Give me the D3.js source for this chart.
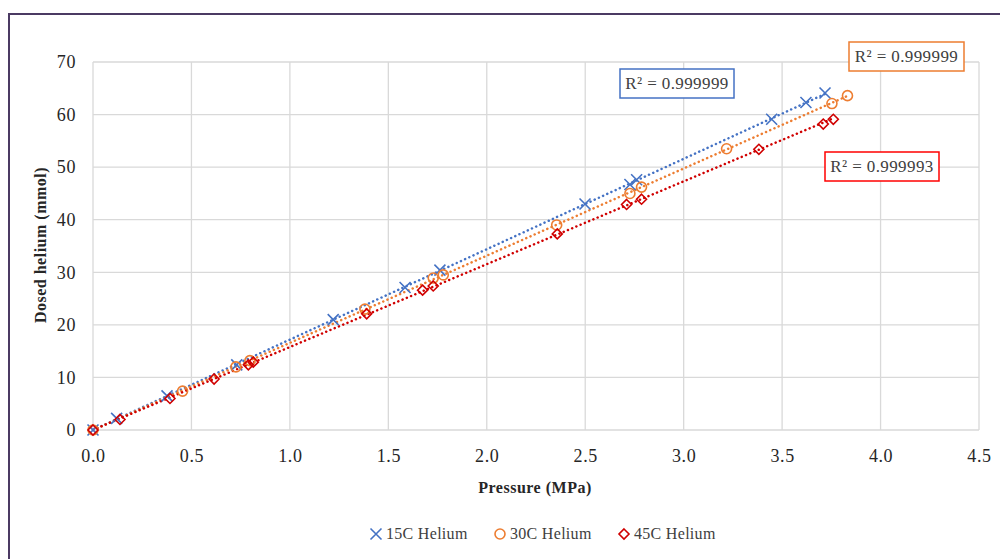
<!DOCTYPE html>
<html><head><meta charset="utf-8">
<script src="https://cdn.jsdelivr.net/npm/d3@7"></script>
<style>
body{margin:0;background:#fff;}
</style></head>
<body><svg id="c" width="1000" height="559"></svg>
<script>
const xTicks = [0,0.5,1.0,1.5,2.0,2.5,3.0,3.5,4.0,4.5];
const yTicks = [0,10,20,30,40,50,60,70];
const seriesNames = ["15C Helium","30C Helium","45C Helium"];
const seriesColors = ["#4472C4","#ED7D31","#D00000"];
const boxColors = ["#4472C4","#ED7D31","#FF0000"];
const r2Labels = ["R² = 0.999999","R² = 0.999999","R² = 0.999993"];
const p15 = [0,0.12,0.376,0.73,1.22,1.585,1.762,2.499,2.727,2.761,3.447,3.621,3.718];
const v15 = [0,2.2,6.5,12.4,21.0,27.1,30.4,43.0,46.7,47.6,59.1,62.3,64.1];
const p30 = [0,0.455,0.726,0.797,1.381,1.728,1.779,2.355,2.727,2.786,3.218,3.753,3.832];
const v30 = [0,7.4,12.0,13.2,23.0,28.9,29.5,39.0,45.0,46.2,53.5,62.1,63.6];
const p45 = [0,0.137,0.391,0.615,0.789,0.814,1.39,1.674,1.728,2.358,2.71,2.786,3.382,3.709,3.76];
const v45 = [0,2.0,6.0,9.7,12.4,12.9,22.1,26.6,27.4,37.3,42.9,43.9,53.4,58.2,59.1];

const FONT = '"Liberation Serif","Times New Roman",serif';
const svg = d3.select("#c");
svg.append("path").attr("d","M9,560 L9,14 L1001,14").attr("fill","none").attr("stroke","#4b3a63").attr("stroke-width",2);

const x = d3.scaleLinear().domain([0,4.5]).range([93,979]);
const y = d3.scaleLinear().domain([0,70]).range([430,62]);

const grid = svg.append("g");
grid.selectAll("line.v").data(xTicks).join("line").attr("x1",d=>x(d)).attr("x2",d=>x(d)).attr("y1",y(0)).attr("y2",y(70)).attr("stroke","#d9d9d9").attr("stroke-width",1.3);
grid.selectAll("line.h").data(yTicks).join("line").attr("x1",x(0)).attr("x2",x(4.5)).attr("y1",d=>y(d)).attr("y2",d=>y(d)).attr("stroke","#d9d9d9").attr("stroke-width",1.3);

const xAxis = svg.append("g").attr("transform",`translate(0,${y(0)})`).call(d3.axisBottom(x).tickValues(xTicks).tickFormat(d3.format(".1f")).tickSize(0).tickPadding(19));
const yAxis = svg.append("g").attr("transform",`translate(${x(0)},0)`).call(d3.axisLeft(y).tickValues(yTicks).tickSize(0).tickPadding(17));
[xAxis,yAxis].forEach(a=>{a.select(".domain").remove();a.attr("font-family",FONT);a.selectAll("text").attr("font-size",18).attr("font-family",FONT).attr("fill","#262626").style("font-family",FONT).style("letter-spacing","0.6px");});

svg.append("text").attr("x",535).attr("y",493).attr("text-anchor","middle").attr("font-size",16).attr("font-weight","bold").attr("fill","#262626").style("font-family",FONT).style("letter-spacing","0.5px").text("Pressure (MPa)");
svg.append("text").attr("transform","translate(46,245) rotate(-90)").attr("text-anchor","middle").attr("font-size",16).attr("font-weight","bold").attr("fill","#262626").style("font-family",FONT).style("letter-spacing","0.5px").text("Dosed helium (mmol)");

const data = [[p15,v15],[p30,v30],[p45,v45]];
function fit(px,py){const n=px.length,mx=d3.mean(px),my=d3.mean(py);let sxy=0,sxx=0;for(let i=0;i<n;i++){sxy+=(px[i]-mx)*(py[i]-my);sxx+=(px[i]-mx)**2;}const b=sxy/sxx;return [b,my-b*mx];}
data.forEach(([px,py],i)=>{
  const [b,a]=fit(px,py);
  const x0=d3.min(px),x1=d3.max(px);
  svg.append("line").attr("x1",x(x0)).attr("y1",y(a+b*x0)).attr("x2",x(x1)).attr("y2",y(a+b*x1))
   .attr("stroke",seriesColors[i]).attr("stroke-width",2.5).attr("stroke-dasharray","0.1 4.5").attr("stroke-linecap","round");
});
function marker(g,type,color,cx,cy){
  if(type===0){g.append("path").attr("d",`M${cx-5.5},${cy-5.5}L${cx+5.5},${cy+5.5}M${cx-5.5},${cy+5.5}L${cx+5.5},${cy-5.5}`).attr("stroke",color).attr("stroke-width",1.6).attr("fill","none");}
  else if(type===1){g.append("circle").attr("cx",cx).attr("cy",cy).attr("r",5).attr("stroke",color).attr("stroke-width",1.6).attr("fill","none");}
  else {g.append("path").attr("d",`M${cx},${cy-5}L${cx+5},${cy}L${cx},${cy+5}L${cx-5},${cy}Z`).attr("stroke",color).attr("stroke-width",1.6).attr("fill","none");}
}
const mg = svg.append("g");
data.forEach(([px,py],i)=>{px.forEach((p,j)=>marker(mg,i,seriesColors[i],x(p),y(py[j])));});

const boxes=[[620,69,114,29],[849,42,115,29],[825,152,114,29]];
boxes.forEach((b,i)=>{
  svg.append("rect").attr("x",b[0]).attr("y",b[1]).attr("width",b[2]).attr("height",b[3]).attr("fill","#fff").attr("stroke",boxColors[i]).attr("stroke-width",1.5);
  svg.append("text").attr("x",b[0]+b[2]/2).attr("y",b[1]+20).attr("text-anchor","middle").attr("font-size",17).attr("fill","#404040").style("font-family",FONT).style("letter-spacing","0.4px").text(r2Labels[i]);
});

const lx=[376,500,624];
seriesNames.forEach((n,i)=>{
  marker(svg,i,seriesColors[i],lx[i],534);
  svg.append("text").attr("x",lx[i]+10).attr("y",539).attr("font-size",16).attr("fill","#404040").style("font-family",FONT).style("letter-spacing","0.3px").text(n);
});
</script></body></html>
